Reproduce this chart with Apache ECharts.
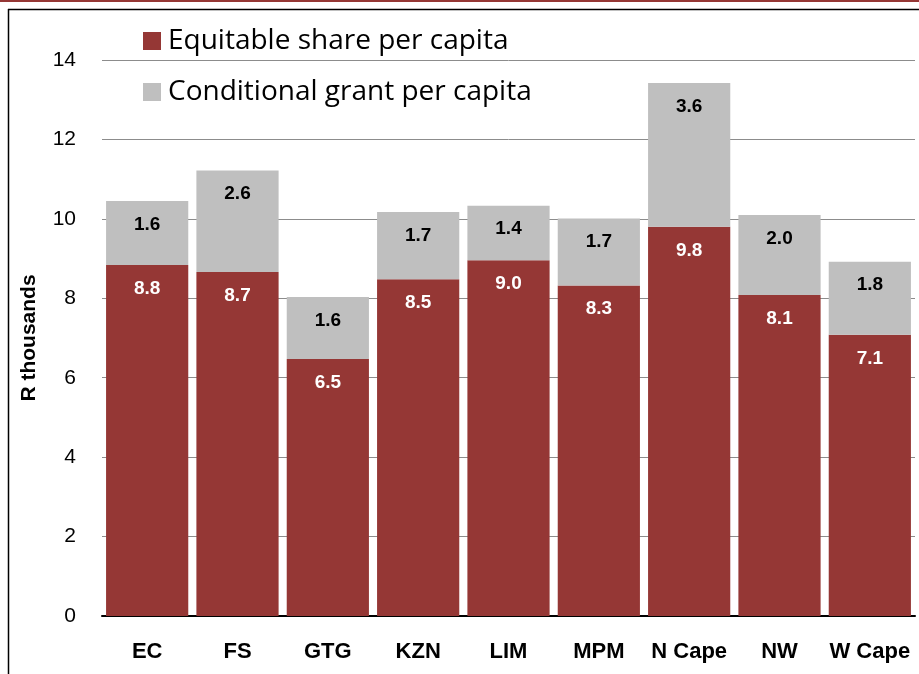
<!DOCTYPE html>
<html>
<head>
<meta charset="utf-8">
<script src="https://cdn.jsdelivr.net/npm/echarts@6/dist/echarts.min.js"></script>
<style>
  html, body { margin: 0; padding: 0; background: #fff; }
  #chart { width: 919px; height: 674px; }
</style>
</head>
<body>
<div id="chart"></div>
<script>
var provinces = ['EC', 'FS', 'GTG', 'KZN', 'LIM', 'MPM', 'N Cape', 'NW', 'W Cape'];
var equitableShare = [8.84, 8.66, 6.47, 8.48, 8.96, 8.32, 9.80, 8.08, 7.08];
var conditionalGrant = [1.61, 2.56, 1.56, 1.69, 1.37, 1.69, 3.62, 2.02, 1.84];
var yTicks = [0, 2, 4, 6, 8, 10, 12, 14];

var font = 'Liberation Sans';
var myChart = echarts.init(document.getElementById('chart'));

option = {
    animation: false,
    textStyle: { fontFamily: font },
    legend: {
        orient: 'vertical',
        left: 138,
        top: 22,
        itemWidth: 18,
        itemHeight: 18,
        itemGap: 23,
        icon: 'rect',
        textStyle: { fontSize: 28, color: '#000', fontFamily: 'Open Sans', padding: [0, 0, 0, 2] },
        data: ['Equitable share per capita', 'Conditional grant per capita']
    },
    grid: {
        left: 102,
        right: 4,
        top: 60,
        bottom: 58
    },
    xAxis: {
        type: 'category',
        data: provinces,
        axisLine: { lineStyle: { color: '#000', width: 2 } },
        axisTick: { show: false },
        axisLabel: { interval: 0, fontSize: 22, fontWeight: 'bold', color: '#000', margin: 25 }
    },
    yAxis: {
        type: 'value',
        min: yTicks[0],
        max: yTicks[yTicks.length - 1],
        interval: 2,
        name: 'R thousands',
        nameLocation: 'middle',
        nameGap: 62,
        nameTextStyle: { fontSize: 21, fontWeight: 'bold', color: '#000' },
        axisLine: { show: false },
        axisTick: { show: false },
        axisLabel: { fontSize: 21, color: '#000', margin: 26 },
        splitLine: { lineStyle: { color: '#8c8c8c', width: 1 } }
    },
    series: [
        {
            name: 'Equitable share per capita',
            type: 'bar',
            stack: 'total',
            barCategoryGap: '9%',
            itemStyle: { color: '#953735' },
            label: {
                show: true,
                position: 'insideTop',
                distance: 14,
                color: '#fff',
                fontSize: 19,
                fontWeight: 'bold',
                formatter: function (p) { return p.value.toFixed(1); }
            },
            data: equitableShare
        },
        {
            name: 'Conditional grant per capita',
            type: 'bar',
            stack: 'total',
            barCategoryGap: '9%',
            itemStyle: { color: '#bfbfbf' },
            label: {
                show: true,
                position: 'insideTop',
                distance: 14,
                color: '#000',
                fontSize: 19,
                fontWeight: 'bold',
                formatter: function (p) { return p.value.toFixed(1); }
            },
            data: conditionalGrant
        }
    ],
    graphic: [
        { type: 'rect', shape: { x: 0, y: 0, width: 919, height: 2 }, style: { fill: '#953735' } },
        { type: 'line', shape: { x1: 8, y1: 9.5, x2: 919, y2: 9.5 }, style: { stroke: '#000', lineWidth: 1.5 } },
        { type: 'line', shape: { x1: 8.5, y1: 9, x2: 8.5, y2: 674 }, style: { stroke: '#000', lineWidth: 1.5 } }
    ]
};

myChart.setOption(option);
</script>
</body>
</html>
